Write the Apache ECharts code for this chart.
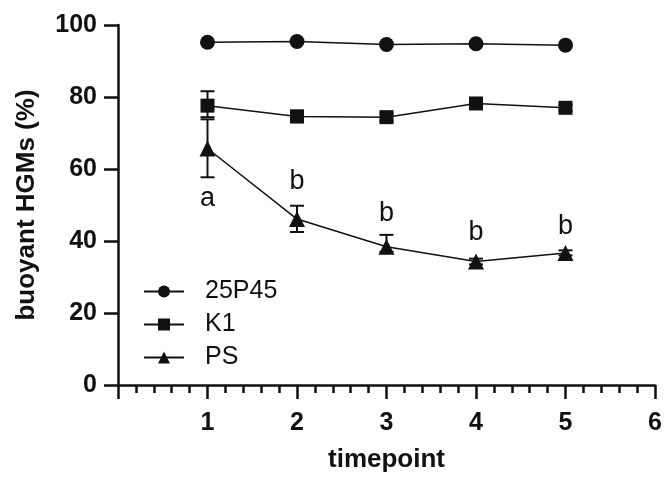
<!DOCTYPE html>
<html>
<head>
<meta charset="utf-8">
<script src="https://cdn.jsdelivr.net/npm/echarts@6/dist/echarts.min.js"></script>
<style>
  html, body { margin: 0; padding: 0; background: #fff; }
  #chart { width: 667px; height: 478px; }
</style>
</head>
<body>
<div id="chart"></div>
<script>
// timepoints
var timepoints = [1, 2, 3, 4, 5];
// mean values
var p45 = [95.2, 95.4, 94.6, 94.8, 94.4];
var k1 = [77.6, 74.6, 74.4, 78.2, 77.0];
var ps = [65.7, 46.1, 38.4, 34.3, 36.7];
// error bars [low, high]
var k1Err = [[74.4, 81.6], [73.0, 76.2], [73.4, 75.4], [77.3, 79.1], [76.2, 77.8]];
var psErr = [[57.7, 73.8], [42.5, 49.8], [37.0, 41.7], [33.5, 35.1], [36.0, 37.4]];
// significance letters
var letters = ['a', 'b', 'b', 'b', 'b'];
var letterY = [51.7, 56.6, 47.5, 42.3, 43.9];

var font = 'Liberation Sans, Arial, sans-serif';

function pairs(vals) {
  return timepoints.map(function (t, i) { return [t, vals[i]]; });
}

function errData(err) {
  return timepoints.map(function (t, i) { return [t, err[i][0], err[i][1]]; });
}

function renderErr(params, api) {
  var x = api.value(0);
  var lo = api.coord([x, api.value(1)]);
  var hi = api.coord([x, api.value(2)]);
  var w = 7;
  var style = { stroke: '#111', lineWidth: 2 };
  return {
    type: 'group',
    children: [
      { type: 'line', shape: { x1: lo[0], y1: lo[1], x2: hi[0], y2: hi[1] }, style: style },
      { type: 'line', shape: { x1: lo[0] - w, y1: lo[1], x2: lo[0] + w, y2: lo[1] }, style: style },
      { type: 'line', shape: { x1: hi[0] - w, y1: hi[1], x2: hi[0] + w, y2: hi[1] }, style: style }
    ]
  };
}

var chart = echarts.init(document.getElementById('chart'));
var lineStyle = { color: '#111', width: 1.5 };
var itemStyle = { color: '#111' };

chart.setOption({
  animation: false,
  grid: { left: 118, right: 12, top: 25, bottom: 91 },
  legend: {
    left: 138,
    top: 274,
    orient: 'vertical',
    itemGap: 8,
    itemWidth: 40,
    itemHeight: 15,
    textStyle: { fontFamily: font, fontSize: 25, color: '#111', padding: [0, 0, 0, 16] },
    data: ['25P45', 'K1', 'PS']
  },
  xAxis: {
    type: 'value',
    min: 0,
    max: 6,
    interval: 1,
    name: 'timepoint',
    nameLocation: 'middle',
    nameGap: 62,
    nameTextStyle: { fontFamily: font, fontSize: 26, fontWeight: 'bold', color: '#111' },
    axisLine: { lineStyle: { color: '#111', width: 2.5 } },
    axisTick: { show: true, inside: false, length: 14, lineStyle: { color: '#111', width: 2.5 } },
    minorTick: { show: true, splitNumber: 5, length: 8, lineStyle: { color: '#111', width: 2.5 } },
    axisLabel: {
      margin: 26,
      fontFamily: font, fontSize: 25, fontWeight: 'bold', color: '#111',
      formatter: function (v) { return v === 0 ? '' : v; }
    },
    splitLine: { show: false }
  },
  yAxis: {
    type: 'value',
    min: 0,
    max: 100,
    interval: 20,
    name: 'buoyant HGMs (%)',
    nameLocation: 'middle',
    nameGap: 78,
    nameTextStyle: { fontFamily: font, fontSize: 26, fontWeight: 'bold', color: '#111' },
    axisLine: { show: true, lineStyle: { color: '#111', width: 2.5 } },
    axisTick: { show: true, inside: false, length: 14, lineStyle: { color: '#111', width: 2.5 } },
    axisLabel: { margin: 21, fontFamily: font, fontSize: 25, fontWeight: 'bold', color: '#111' },
    splitLine: { show: false }
  },
  series: [
    {
      name: '25P45', type: 'line', data: pairs(p45),
      symbol: 'circle', symbolSize: 15, lineStyle: lineStyle, itemStyle: itemStyle, z: 3
    },
    {
      name: 'K1', type: 'line', data: pairs(k1),
      symbol: 'rect', symbolSize: 14, lineStyle: lineStyle, itemStyle: itemStyle, z: 3
    },
    {
      name: 'PS', type: 'line', data: pairs(ps),
      symbol: 'triangle', symbolSize: 16, lineStyle: lineStyle, itemStyle: itemStyle, z: 3
    },
    { type: 'custom', renderItem: renderErr, data: errData(k1Err), z: 2 },
    { type: 'custom', renderItem: renderErr, data: errData(psErr), z: 2 },
    {
      type: 'scatter',
      symbolSize: 1,
      itemStyle: { opacity: 0 },
      data: timepoints.map(function (t, i) { return { value: [t, letterY[i]], name: letters[i] }; }),
      label: {
        show: true, position: 'inside',
        formatter: function (p) { return p.name; },
        fontFamily: font, fontSize: 27, color: '#111', opacity: 1
      },
      silent: true
    }
  ]
});
</script>
</body>
</html>
